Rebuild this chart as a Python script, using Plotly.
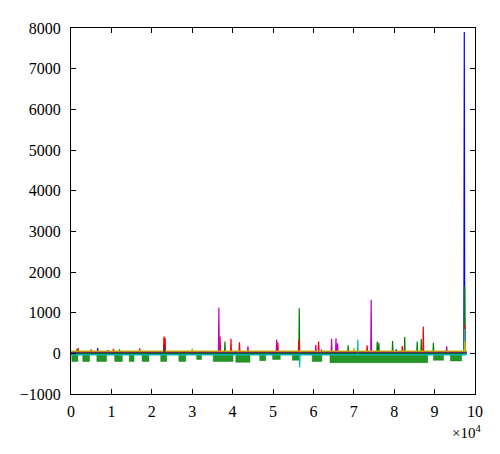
import plotly.graph_objects as go

END_X = 97900

# baselines of each series (value around which it hovers)
series_names = ["blue", "green", "red", "cyan", "magenta", "yellow", "dark"]
series_colors = ["#0000ff", "#008000", "#ff0000", "#00bfbf", "#bf00bf", "#bfbf00", "#404040"]
baselines = [20, 5, 45, -40, 30, 55, 10]

# spikes per series: x positions and peak values
blue_x = [6600, 9200, 23200, 51000, 62000, 80500, 97350]
blue_y = [130, 80, 110, 120, 90, 100, 7900]

green_x = [1500, 12000, 38100, 56500, 68600, 75800, 76200, 79600, 82600, 85700, 86700, 89700, 97450]
green_y = [120, 100, 290, 1110, 200, 290, 260, 300, 400, 290, 350, 260, 1650]

red_x = [1800, 5000, 10500, 17000, 23000, 23300, 36900, 39600, 41700, 51200, 56400, 61300, 73300, 82000, 87200, 97500]
red_y = [130, 100, 110, 120, 415, 380, 415, 360, 270, 270, 340, 290, 200, 180, 660, 700]

cyan_x = [56600, 71000, 97420]
cyan_y = [-340, 340, 600]

magenta_x = [36600, 43800, 50900, 60600, 64500, 65600, 66000, 74300, 93000]
magenta_y = [1125, 170, 340, 210, 360, 370, 250, 1320, 170]

yellow_x = [30000, 70000, 97480]
yellow_y = [120, 130, 300]

dark_x = [23100]
dark_y = [200]

# green negative blocks (start, end, depth)
block_start = [200, 2900, 6400, 10800, 14400, 17600, 22200, 26700, 31100, 35200, 40800, 46700, 49900, 54800, 59700, 64100, 89700, 93900]
block_end = [1700, 4600, 8800, 12700, 15600, 19300, 23700, 28400, 32300, 40100, 44300, 48200, 51800, 56500, 62100, 88300, 92200, 96700]
block_depth = [-200, -200, -200, -200, -200, -200, -200, -200, -150, -200, -220, -180, -150, -170, -200, -230, -170, -190]

# axis ticks
y_ticks = [-1000, 0, 1000, 2000, 3000, 4000, 5000, 6000, 7000, 8000]
x_ticks = [0, 10000, 20000, 30000, 40000, 50000, 60000, 70000, 80000, 90000, 100000]
x_tick_text = ["0", "1", "2", "3", "4", "5", "6", "7", "8", "9", "10"]

spike_data = {
    "blue": (blue_x, blue_y),
    "green": (green_x, green_y),
    "red": (red_x, red_y),
    "cyan": (cyan_x, cyan_y),
    "magenta": (magenta_x, magenta_y),
    "yellow": (yellow_x, yellow_y),
    "dark": (dark_x, dark_y),
}

FONT = "Liberation Serif"


def build_spikes(base, xs, ys, hw=110):
    X = [0]
    Y = [base]
    for x, y in sorted(zip(xs, ys)):
        X += [x - hw, x, x + hw]
        Y += [base, y, base]
    X.append(END_X)
    Y.append(base)
    return X, Y


fig = go.Figure()

# green blocks as filled shape
gx = [0]
gy = [0]
for s, e, d in zip(block_start, block_end, block_depth):
    gx += [s, s, e, e]
    gy += [0, d, d, 0]
gx.append(END_X)
gy.append(0)
fig.add_trace(go.Scatter(x=gx, y=gy, mode="lines", line=dict(color="rgba(0,128,0,0.85)", width=0.5),
                         fill="tozeroy", fillcolor="rgba(0,128,0,0.85)", showlegend=False, hoverinfo="skip"))

# thick green/teal band around zero
fig.add_trace(go.Scatter(x=[0, END_X], y=[baselines[1], baselines[1]], mode="lines",
                         line=dict(color="#1a8a5a", width=3.5), showlegend=False, hoverinfo="skip"))

for name, color, base in zip(series_names, series_colors, baselines):
    xs, ys = spike_data[name]
    X, Y = build_spikes(base, xs, ys)
    fig.add_trace(go.Scatter(x=X, y=Y, mode="lines", line=dict(color=color, width=1.2),
                             showlegend=False, name=name))

axis_common = dict(showline=True, linecolor="black", linewidth=1, mirror="ticks",
                   ticks="inside", ticklen=5, tickcolor="black", showgrid=False, zeroline=False,
                   tickfont=dict(family=FONT, size=16, color="black"))

fig.update_layout(
    width=492, height=446,
    margin=dict(l=58, r=25, t=18, b=60),
    font=dict(family=FONT, size=16, color="black"),
    paper_bgcolor="white", plot_bgcolor="white",
    xaxis=dict(range=[0, 100000], tickvals=x_ticks, ticktext=x_tick_text, ticklabelstandoff=3, **axis_common),
    yaxis=dict(range=[-1000, 8000], tickvals=y_ticks, ticklabelstandoff=6, **axis_common),
    annotations=[dict(text="×10<sup>4</sup>", x=1.02, y=-0.075, xref="paper", yref="paper",
                      xanchor="right", yanchor="top", showarrow=False,
                      font=dict(family=FONT, size=15, color="black"))],
)

fig.write_html("out.html")
